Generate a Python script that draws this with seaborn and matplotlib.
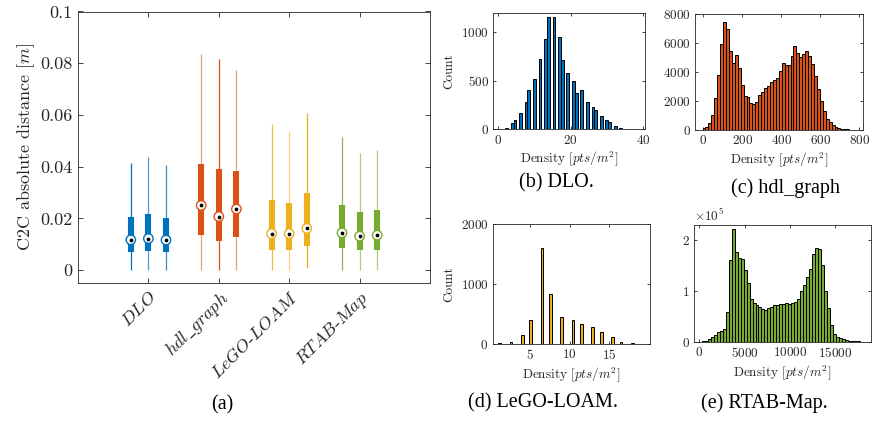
import numpy as np
import pandas as pd
import matplotlib
matplotlib.use("Agg")
from matplotlib import pyplot as plt
import matplotlib.transforms as mtransforms
import seaborn as sns

# (a) C2C absolute distance, three runs per method (box summaries)
METHODS = ["DLO", "hdl_graph", "LeGO-LOAM", "RTAB-Map"]
METHOD_TICKS = [r"$DLO$", r"$hdl\_graph$", r"$LeGO$-$LOAM$", r"$RTAB$-$Map$"]
COLORS = ["#0072BD", "#D95319", "#EDB120", "#77AC30"]

c2c_low = [[0.0, 0.0, 0.0], [0.0, 0.0, 0.0], [0.0, 0.0, 0.0009], [0.0, 0.0, 0.0]]
c2c_q1 = [[0.0071, 0.0075, 0.0070], [0.0135, 0.0111, 0.0127],
          [0.0079, 0.0079, 0.0093], [0.0085, 0.0077, 0.0078]]
c2c_median = [[0.0117, 0.0122, 0.0116], [0.0250, 0.0207, 0.0236],
              [0.0141, 0.0141, 0.0161], [0.0144, 0.0131, 0.0135]]
c2c_q3 = [[0.0206, 0.0218, 0.0202], [0.0412, 0.0391, 0.0384],
          [0.0272, 0.0260, 0.0297], [0.0252, 0.0225, 0.0232]]
c2c_high = [[0.0415, 0.0436, 0.0405], [0.0835, 0.0816, 0.0772],
            [0.0565, 0.0537, 0.0606], [0.0514, 0.0453, 0.0463]]
whisker_alpha = [[1.0, 0.7, 0.8], [0.55, 1.0, 0.55], [0.85, 0.55, 1.0], [0.85, 0.6, 0.6]]
y_ticks_a = [0, 0.02, 0.04, 0.06, 0.08, 0.1]
y_ticklabels_a = ["0", "0.02", "0.04", "0.06", "0.08", "0.1"]

# (b)-(e) point density histograms: first bin edge, bin width, counts per bin
dlo_start, dlo_width = 0.315, 0.77
dlo_counts = [10, 0, 20, 0, 70, 100, 0, 170, 0, 280, 410, 0, 520, 0, 725, 0, 930, 1155, 0, 1155,
              0, 950, 715, 0, 585, 0, 495, 375, 0, 405, 0, 285, 0, 230, 200, 0, 135, 0, 95, 80,
              0, 40, 0, 20, 8, 0, 4, 0, 3, 2]

hdl_start, hdl_width = -2.5, 15.0
hdl_counts = [110, 230, 500, 1030, 2180, 3790, 5930, 7420, 6980, 5470,
              4600, 5170, 4250, 3080, 2340, 2250, 1880, 1790, 1910, 2410,
              2620, 2870, 3060, 3330, 3450, 3610, 4070, 4640, 4510, 4460,
              5100, 5770, 5330, 5060, 5240, 5430, 5100, 4530, 3720, 2800,
              2020, 1310, 780, 530, 320, 230, 140, 90, 70, 50, 20, 10]

lego_start, lego_width = 1.0225, 0.355
lego_counts = [10, 0, 0, 0, 35, 0, 0, 0, 145, 0, 0, 400, 0, 0, 0, 1595, 0, 0, 830, 0,
               0, 0, 450, 0, 0, 0, 405, 0, 0, 330, 0, 0, 0, 280, 0, 0, 195, 0, 0, 0,
               110, 0, 0, 40, 0, 0, 0, 15, 0, 0, 8]

rtab_start, rtab_width = 255.0, 330.0
rtab_counts = [700, 2000, 4600, 8500, 14000, 19000, 21000, 25000, 58000, 161000,
               222000, 177000, 165000, 163000, 141000, 115000, 84000, 77000, 72000, 69000,
               64000, 62000, 66000, 69000, 72000, 73000, 74000, 75000, 77000, 75000,
               77000, 78000, 85000, 100000, 112000, 127000, 144000, 173000, 184000, 182000,
               152000, 99000, 66000, 33000, 16000, 10000, 6600, 4600, 2600, 2000,
               1300, 700, 500, 300]

W, H = 872, 423
sns.set_style("ticks")
plt.rcParams.update({
    "font.family": ["cmr10", "DejaVu Sans"],
    "mathtext.fontset": "cm",
    "axes.formatter.use_mathtext": True,
    "axes.edgecolor": "#262626",
    "axes.linewidth": 0.6,
    "xtick.direction": "in",
    "ytick.direction": "in",
    "xtick.top": True,
    "ytick.right": True,
    "xtick.color": "#262626",
    "ytick.color": "#262626",
    "xtick.major.width": 0.6,
    "ytick.major.width": 0.6,
    "text.color": "#262626",
    "axes.labelcolor": "#262626",
})

fig = plt.figure(figsize=(W / 100, H / 100), dpi=100)


def px_axes(left, top, right, bottom):
    return fig.add_axes([left / W, 1 - bottom / H, (right - left) / W, (bottom - top) / H])


def caption(x, y, s):
    fig.text(x / W, 1 - y / H, s, ha="center", va="center",
             family="Liberation Serif", size=14.5, color="black")


# ---- panel (a)
ax = px_axes(78, 11.5, 430, 283)
offsets = [-0.25, 0.0, 0.25]
rows = []
for i, m in enumerate(METHODS):
    for j, off in enumerate(offsets):
        rows.append({"method": m, "pos": i + 1 + off, "low": c2c_low[i][j], "q1": c2c_q1[i][j],
                     "median": c2c_median[i][j], "q3": c2c_q3[i][j], "high": c2c_high[i][j],
                     "color": COLORS[i], "alpha": whisker_alpha[i][j]})
box_df = pd.DataFrame(rows)

for _, r in box_df.iterrows():
    ax.vlines(r["pos"], r["low"], r["high"], color=r["color"], alpha=r["alpha"], linewidth=0.9)
    ax.vlines(r["pos"], r["q1"], r["q3"], color=r["color"], linewidth=4.4)
ax.scatter(box_df["pos"], box_df["median"], s=46, facecolor="white",
           edgecolor=box_df["color"], linewidth=1.0, zorder=3)
ax.scatter(box_df["pos"], box_df["median"], s=3, color="black", zorder=4)

ax.set_xlim(0, 5)
ax.set_ylim(-0.005, 0.1)
ax.set_yticks(y_ticks_a)
ax.set_yticklabels(y_ticklabels_a, fontsize=13)
ax.set_xticks(range(1, len(METHODS) + 1))
ax.set_xticklabels(METHOD_TICKS, rotation=45, ha="right", va="top",
                   rotation_mode="anchor", fontsize=13)
shift = mtransforms.ScaledTranslation(9 / 100, 0, fig.dpi_scale_trans)
for lbl in ax.get_xticklabels():
    lbl.set_transform(lbl.get_transform() + shift)
ax.tick_params(length=3.5, pad=4)
ax.set_ylabel(r"C2C absolute distance $[m]$", fontsize=13, labelpad=2)
for s in ax.spines.values():
    s.set_visible(True)
caption(222, 405, "(a)")


# ---- histograms
def draw_hist(axh, start, width, counts, color):
    n = len(counts)
    hist_df = pd.DataFrame({"density": start + width * (np.arange(n) + 0.5),
                            "count": np.asarray(counts, dtype=float)})
    sns.histplot(data=hist_df, x="density", weights="count", bins=n,
                 binrange=(start, start + width * n), ax=axh,
                 color=color, edgecolor="black", linewidth=0.7, alpha=1)
    axh.tick_params(labelsize=9.5, length=2.5, pad=3)
    axh.set_xlabel(r"Density $[pts/m^2]$", fontsize=9.5, labelpad=2)
    axh.set_ylabel("Count", fontsize=9.5)
    for s in axh.spines.values():
        s.set_visible(True)


axb = px_axes(493, 13, 645, 129.5)
draw_hist(axb, dlo_start, dlo_width, dlo_counts, COLORS[0])
axb.set_xlim(-1.5, 40.5)
axb.set_ylim(0, 1200)
axb.set_xticks([0, 20, 40])
axb.set_yticks([0, 500, 1000])
caption(556, 183, "(b) DLO.")

axc = px_axes(695, 14, 863, 130)
draw_hist(axc, hdl_start, hdl_width, hdl_counts, COLORS[1])
axc.set_xlim(-41, 818)
axc.set_ylim(0, 8000)
axc.set_xticks([0, 200, 400, 600, 800])
axc.set_yticks([0, 2000, 4000, 6000, 8000])
axc.set_ylabel("")
caption(785, 188, "(c) hdl_graph")

axd = px_axes(492.5, 224, 649.5, 344)
draw_hist(axd, lego_start, lego_width, lego_counts, COLORS[2])
axd.set_xlim(0.3, 20.05)
axd.set_ylim(0, 2000)
axd.set_xticks([5, 10, 15])
axd.set_yticks([0, 1000, 2000])
caption(543, 403, "(d) LeGO-LOAM.")

axe = px_axes(694, 225, 870.5, 341.7)
draw_hist(axe, rtab_start, rtab_width, rtab_counts, COLORS[3])
axe.set_xlim(-600, 18900)
axe.set_ylim(0, 2.3e5)
axe.set_xticks([0, 5000, 10000, 15000])
axe.set_yticks([0, 1e5, 2e5])
axe.ticklabel_format(axis="y", style="sci", scilimits=(5, 5))
axe.yaxis.get_offset_text().set_fontsize(9.5)
axe.set_ylabel("")
caption(764, 403, "(e) RTAB-Map.")

fig.savefig("out.png", dpi=100)
